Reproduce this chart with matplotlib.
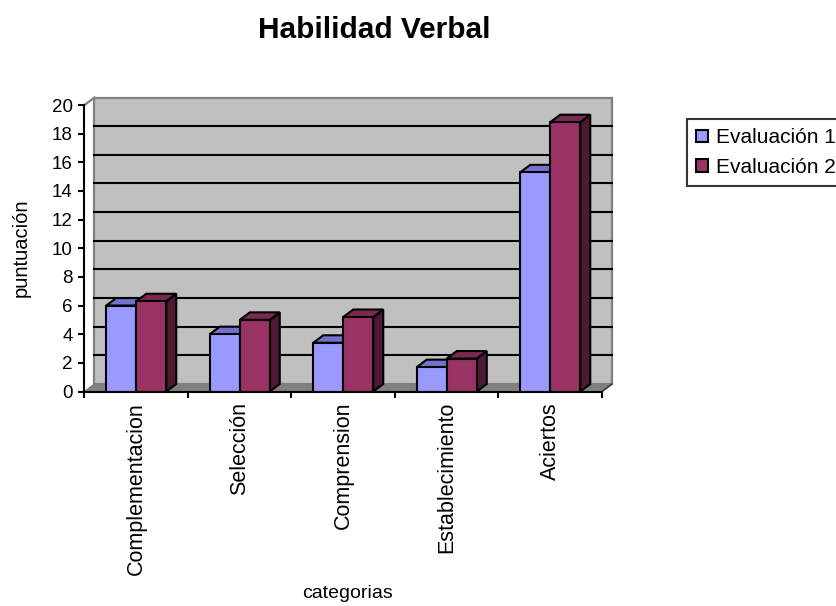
import matplotlib
matplotlib.use("Agg")
import matplotlib.pyplot as plt
from matplotlib.patches import Polygon, Rectangle

plt.rcParams['font.family'] = ['Liberation Sans', 'DejaVu Sans']

categories = ["Complementacion", "Selección", "Comprension", "Establecimiento", "Aciertos"]
series_names = ["Evaluación 1", "Evaluación 2"]
eval1 = [6.0, 4.0, 3.4, 1.7, 15.3]
eval2 = [6.3, 5.0, 5.2, 2.3, 18.8]
yticks = list(range(0, 21, 2))

# front, top and side shades for each series
front_colors = ["#9999FF", "#993366"]
top_colors = ["#7272CC", "#7A2952"]
side_colors = ["#5C5CA3", "#4D1A33"]

W, H = 837, 606
fig = plt.figure(figsize=(W / 100, H / 100), dpi=100)

# axes placed in pixels: x unit = 103.5 px per category, y unit = 14.325 px
x0, y0, x1, y1 = 84.5, 391.5, 625, 90
ax = fig.add_axes([x0 / W, 1 - y0 / H, (x1 - x0) / W, (y0 - y1) / H])
ax.set_xlim(0, (x1 - x0) / 103.5)
ax.set_ylim(0, (y0 - y1) / 14.325)
ax.patch.set_visible(False)

ncat = len(categories)
dx, dy = 10 / 103.5, 7.5 / 14.325
ymax = 20

# floor and back wall
ax.add_patch(Polygon([(0, 0), (ncat, 0), (ncat + dx, dy), (dx, dy)],
                     closed=True, facecolor="#808080", edgecolor="#808080", lw=1, zorder=1))
ax.add_patch(Rectangle((dx, dy), ncat, ymax, facecolor="#C0C0C0",
                       edgecolor="#808080", lw=1.6, zorder=1))
ax.plot([0, dx], [ymax, ymax + dy], color="#808080", lw=1.6, zorder=1)
ax.plot([ncat, ncat + dx], [0, dy], color="#404040", lw=1.2, zorder=1)
for v in yticks[1:-1]:
    ax.plot([dx, ncat + dx], [v + dy, v + dy], color="black", lw=1.5, zorder=2)

# 3d bars
bw = 0.29
for i in range(ncat):
    for s, vals in enumerate([eval1, eval2]):
        left = i + 0.5 - bw + s * bw
        h = vals[i]
        ax.add_patch(Polygon([(left + bw, 0), (left + bw + dx, dy), (left + bw + dx, h + dy), (left + bw, h)],
                             closed=True, facecolor=side_colors[s], edgecolor="black", lw=1.5, zorder=3))
        ax.add_patch(Polygon([(left, h), (left + bw, h), (left + bw + dx, h + dy), (left + dx, h + dy)],
                             closed=True, facecolor=top_colors[s], edgecolor="black", lw=1.5, zorder=3))
        ax.add_patch(Rectangle((left, 0), bw, h, facecolor=front_colors[s],
                               edgecolor="black", lw=1.5, zorder=3))

# axes lines and ticks
for side in ["top", "right"]:
    ax.spines[side].set_visible(False)
ax.spines["left"].set_bounds(0, ymax)
ax.spines["bottom"].set_bounds(0, ncat)
for side in ["left", "bottom"]:
    ax.spines[side].set_linewidth(1.5)
    ax.spines[side].set_zorder(4)

ax.set_yticks(yticks)
ax.set_yticklabels([str(v) for v in yticks])
ax.tick_params(axis="y", direction="out", length=4, width=1.5, pad=4.5, labelsize=13.5)
ax.set_xticks(range(ncat + 1))
ax.set_xticklabels([])
ax.tick_params(axis="x", which="major", direction="out", length=4.5, width=1.5)
ax.set_xticks([i + 0.5 for i in range(ncat)], minor=True)
ax.set_xticklabels(categories, minor=True, rotation=90, fontsize=15.5, va="top")
ax.tick_params(axis="x", which="minor", length=0, pad=7.5)

fig.text(374 / W, 1 - 30 / H, "Habilidad Verbal", fontsize=21.5, fontweight="bold",
         ha="center", va="center")
fig.text(348 / W, 1 - 594 / H, "categorias", fontsize=14, ha="center", va="center")
fig.text(21 / W, 1 - 248 / H, "puntuación", fontsize=14.5, rotation=90,
         ha="center", va="center")

handles = [Rectangle((0, 0), 1, 1, facecolor=c, edgecolor="black", lw=1.5) for c in front_colors]
leg = fig.legend(handles, series_names, loc="upper left",
                 bbox_to_anchor=(687 / W, 1 - 119 / H), fontsize=15,
                 frameon=True, fancybox=False, edgecolor="black",
                 handlelength=0.55, handleheight=0.55, handletextpad=0.4,
                 borderpad=0.45, labelspacing=0.5, borderaxespad=0)
leg.get_frame().set_linewidth(1.5)

fig.savefig("out.png", dpi=100)
